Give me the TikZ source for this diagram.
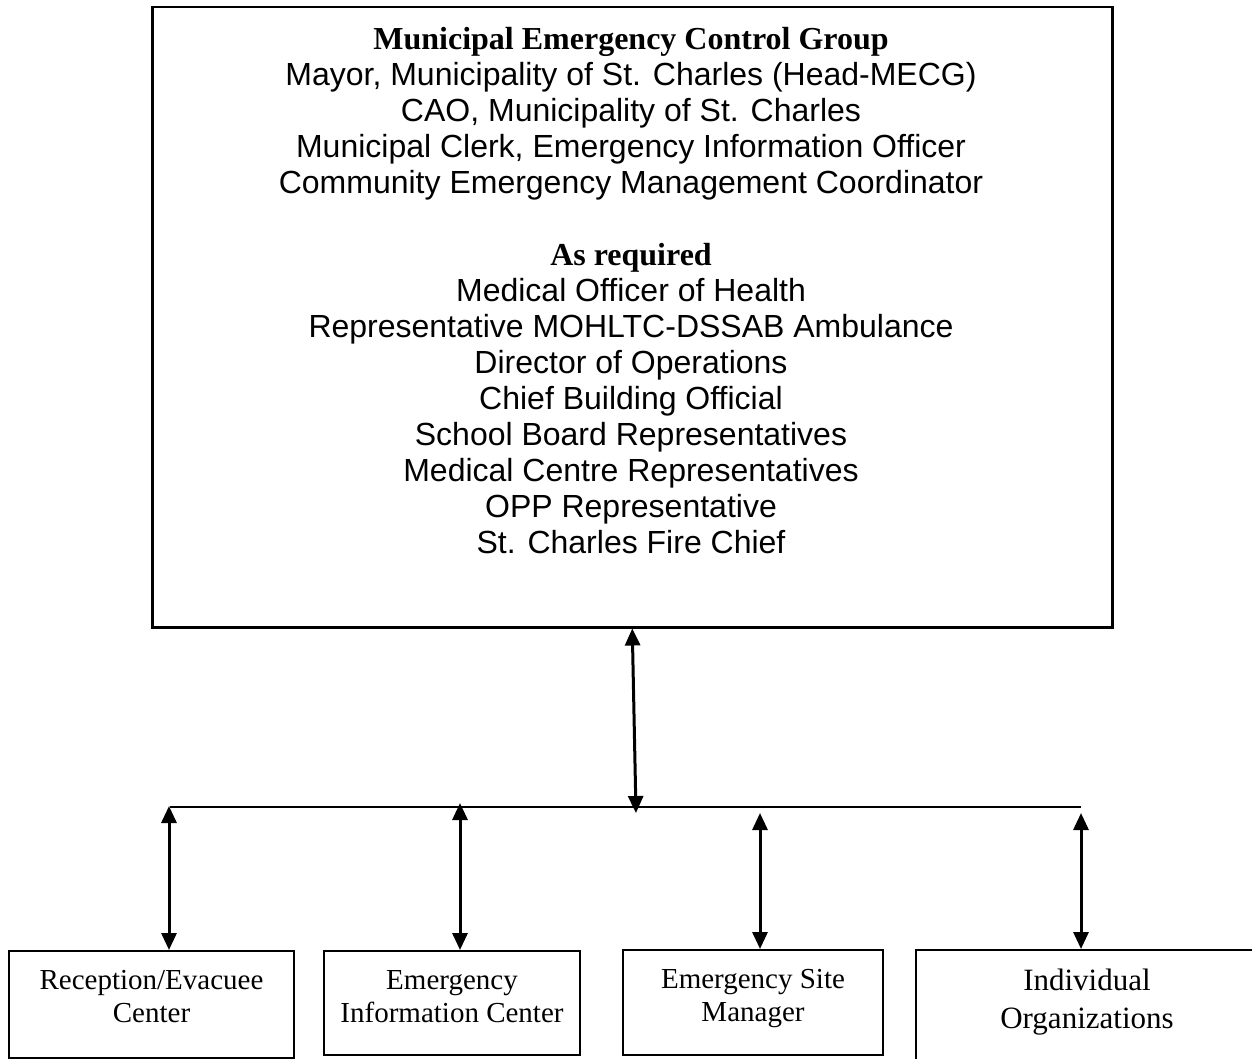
\documentclass[tikz,border=0pt]{standalone}
\usepackage{fontspec}
\setmainfont{Liberation Serif}
\newfontfamily\arialfont{Liberation Sans}
\usetikzlibrary{arrows.meta,calc}
\begin{document}
\begin{tikzpicture}[x=1pt,y=-1pt,
  box/.style={draw, line width=2pt, inner sep=0pt, anchor=north west},
  lbl/.style={align=center, inner sep=0pt, anchor=north, font=\fontsize{29}{33}\selectfont},
  bi/.style={line width=3pt, {Triangle[length=17pt,width=15pt]}-{Triangle[length=17pt,width=15pt]}},
  bus/.style={line width=2pt}]
\useasboundingbox (0,0) rectangle (1252,1059);
\clip (0,0) rectangle (1252,1059);

% top box
\node[box, line width=2.5pt, minimum width=960pt, minimum height=620pt] (mecg) at (151,6) {};
\node[align=center, inner sep=0pt, anchor=north, font=\fontsize{32}{36}\selectfont] (mecgtext) at (631,27)
 {{\bfseries Municipal Emergency Control Group}\\
  {\arialfont Mayor, Municipality of St. Charles (Head-MECG)}\\
  {\arialfont CAO, Municipality of St. Charles}\\
  {\arialfont Municipal Clerk, Emergency Information Officer}\\
  {\arialfont Community Emergency Management Coordinator}\\[36pt]
  {\bfseries As required}\\
  {\arialfont Medical Officer of Health}\\
  {\arialfont Representative MOHLTC-DSSAB Ambulance}\\
  {\arialfont Director of Operations}\\
  {\arialfont Chief Building Official}\\
  {\arialfont School Board Representatives}\\
  {\arialfont Medical Centre Representatives}\\
  {\arialfont OPP Representative}\\
  {\arialfont St. Charles Fire Chief}};

% bottom boxes
\node[box, minimum width=285pt, minimum height=107pt] (b1) at (8,950) {};
\node[box, minimum width=256pt, minimum height=104pt] (b2) at (323,950) {};
\node[box, minimum width=260pt, minimum height=105pt] (b3) at (622,949) {};
\node[box, minimum width=342pt, minimum height=115pt] (b4) at (915,949) {};

\node[lbl] (t1) at ($(b1.north)+(0,20)$) {Reception/Evacuee\\Center};
\node[lbl] (t2) at ($(b2.north)+(0,20)$) {Emergency\\Information Center};
\node[lbl] (t3) at ($(b3.north)+(0,20)$) {Emergency Site\\Manager};
\node[lbl, font=\fontsize{31}{38}\selectfont] (t4) at ($(b4.north)+(0,20)$) {Individual\\Organizations};

% bus
\coordinate (busL) at (170,807);
\coordinate (busR) at (1081,807);
\draw[bus] (busL) -- (busR);
\coordinate (hub) at (636,813);
\draw[bi] (mecg.south) -- (hub);

\coordinate (a1) at (169,806);
\coordinate (a2) at (460,803);
\coordinate (a3) at (760,813);
\coordinate (a4) at (1081,813);
\draw[bi] (a1) -- (a1 |- b1.north);
\draw[bi] (a2) -- (a2 |- b2.north);
\draw[bi] (a3) -- (a3 |- b3.north);
\draw[bi] (a4) -- (a4 |- b4.north);
\end{tikzpicture}
\end{document}
